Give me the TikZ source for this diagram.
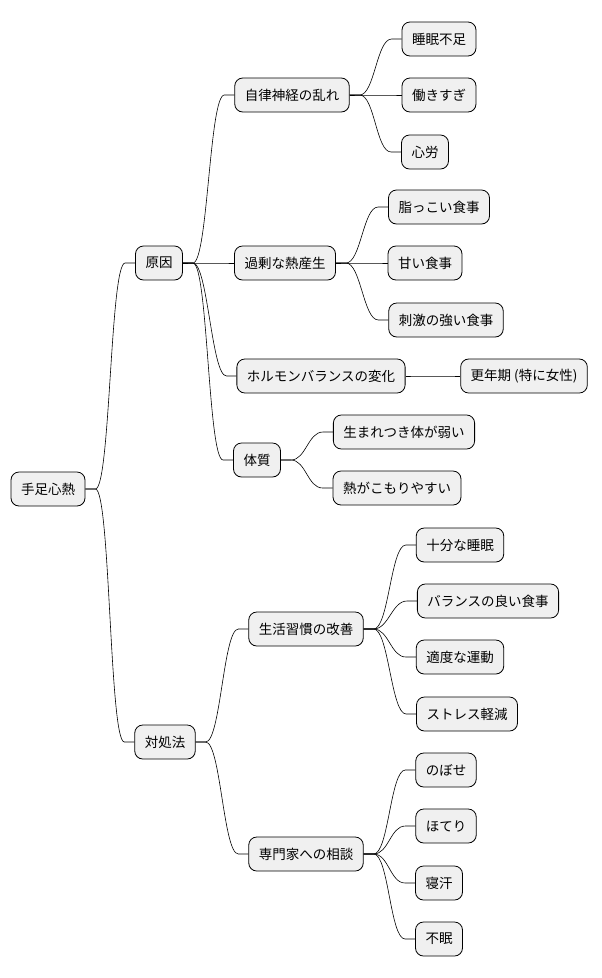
\documentclass[tikz,border=0pt]{standalone}
\usepackage{fontspec}
\setmainfont{Noto Sans CJK JP}
\begin{document}
\begin{tikzpicture}[x=1pt,y=-1pt,
  mm/.style={draw=black,fill=black!6,rounded corners=8pt,minimum height=34pt,inner xsep=10pt,font=\fontsize{13.5}{16}\selectfont,line width=0.8pt},
  lk/.style={line width=0.6pt}]
\useasboundingbox (0,0) rectangle (602,978);
\node[mm] (r) at (48,489) {手足心熱};
\node[mm] (a) at (159,263) {原因};
\node[mm] (b) at (165,742) {対処法};
\node[mm] (a1) at (292,95) {自律神経の乱れ};
\node[mm] (a2) at (285,263) {過剰な熱産生};
\node[mm] (a3) at (321,376) {ホルモンバランスの変化};
\node[mm] (a4) at (257,460) {体質};
\node[mm] (a11) at (439,39) {睡眠不足};
\node[mm] (a12) at (439,95) {働きすぎ};
\node[mm] (a13) at (425,152) {心労};
\node[mm] (a21) at (439,207) {脂っこい食事};
\node[mm] (a22) at (425,263) {甘い食事};
\node[mm] (a23) at (446,320) {刺激の強い食事};
\node[mm] (a31) at (524,376) {更年期 (特に女性)};
\node[mm] (a41) at (404,432) {生まれつき体が弱い};
\node[mm] (a42) at (397,488) {熱がこもりやすい};
\node[mm] (b1) at (306,629) {生活習慣の改善};
\node[mm] (b2) at (306,854) {専門家への相談};
\node[mm] (b11) at (460,545) {十分な睡眠};
\node[mm] (b12) at (488,601) {バランスの良い食事};
\node[mm] (b13) at (460,657) {適度な運動};
\node[mm] (b14) at (467,714) {ストレス軽減};
\node[mm] (b21) at (446,770) {のぼせ};
\node[mm] (b22) at (446,826) {ほてり};
\node[mm] (b23) at (439,883) {寝汗};
\node[mm] (b24) at (439,939) {不眠};
\foreach \p/\c in {r/a,r/b,a/a1,a/a2,a/a3,a/a4,a1/a11,a1/a12,a1/a13,a2/a21,a2/a22,a2/a23,a3/a31,a4/a41,a4/a42,b/b1,b/b2,b1/b11,b1/b12,b1/b13,b1/b14,b2/b21,b2/b22,b2/b23,b2/b24}
  \draw[lk] (\p.east) -- ++(10,0) .. controls +(15,0) and +(-15,0) .. ([xshift=-10pt]\c.west) -- (\c.west);
\end{tikzpicture}
\end{document}
